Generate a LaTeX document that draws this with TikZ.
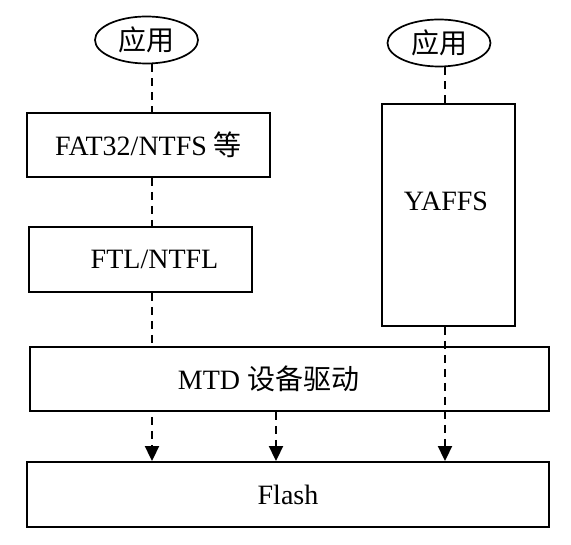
\documentclass[tikz,border=0pt]{standalone}
\usepackage{fontspec}
\setmainfont{Liberation Serif}
\newfontfamily\cjk{Noto Sans CJK SC}
\usetikzlibrary{arrows.meta,shapes.geometric}

\tikzset{
	box/.style={draw, line width=1.9pt, inner sep=0pt},
	app/.style={draw, ellipse, line width=1.7pt, inner sep=0pt, minimum width=103pt, minimum height=47pt},
	flow/.style={line width=2pt, dash pattern=on 8pt off 6pt},
	tip/.style={-{Triangle[width=14pt,length=15pt]}}
}

\begin{document}
\begin{tikzpicture}[x=1pt, y=-1pt, font=\fontsize{28}{32}\selectfont]
			\useasboundingbox (0,0) rectangle (571,545);

			\node[app] (app1) at (146.5,40) {\cjk 应用};
			\node[app] (app2) at (439,43) {\cjk 应用};

			\node[box, minimum width=243pt, minimum height=64pt] (fat) at (148.5,145) {FAT32/NTFS {\cjk 等}};
			\node[box, minimum width=223pt, minimum height=65pt] (ftl) at (140.5,259.5) {\hspace*{28pt}FTL/NTFL};
			\node[box, minimum width=133pt, minimum height=222pt] (yaffs) at (448.5,215) {};
			\node (yaffstxt) at (446,201) {YAFFS};
			\node[box, minimum width=519pt, minimum height=64pt] (mtd) at (289.5,379) {MTD {\cjk 设备驱动}\hspace*{42pt}};
			\node[box, minimum width=522pt, minimum height=65pt] (flash) at (288,494.5) {Flash};

			\coordinate (left) at (152,0);
			\coordinate (mid) at (276,0);
			\coordinate (right) at (445,0);
			\coordinate (leftstart) at (152,417);

			\path[flow,draw] (app1.south -| left) -- (fat.north -| left);
			\path[flow,draw] (fat.south -| left) -- (ftl.north -| left);
			\path[flow,draw] (ftl.south -| left) -- (mtd.north -| left);
			\path[flow,draw] (app2.south -| right) -- (yaffs.north -| right);

			\path[flow,tip,draw] (leftstart) -- (flash.north -| left);
			\path[flow,tip,draw] (mtd.south -| mid) -- (flash.north -| mid);
			\path[flow,tip,draw] (yaffs.south -| right) -- (flash.north -| right);
		\end{tikzpicture}
\end{document}
